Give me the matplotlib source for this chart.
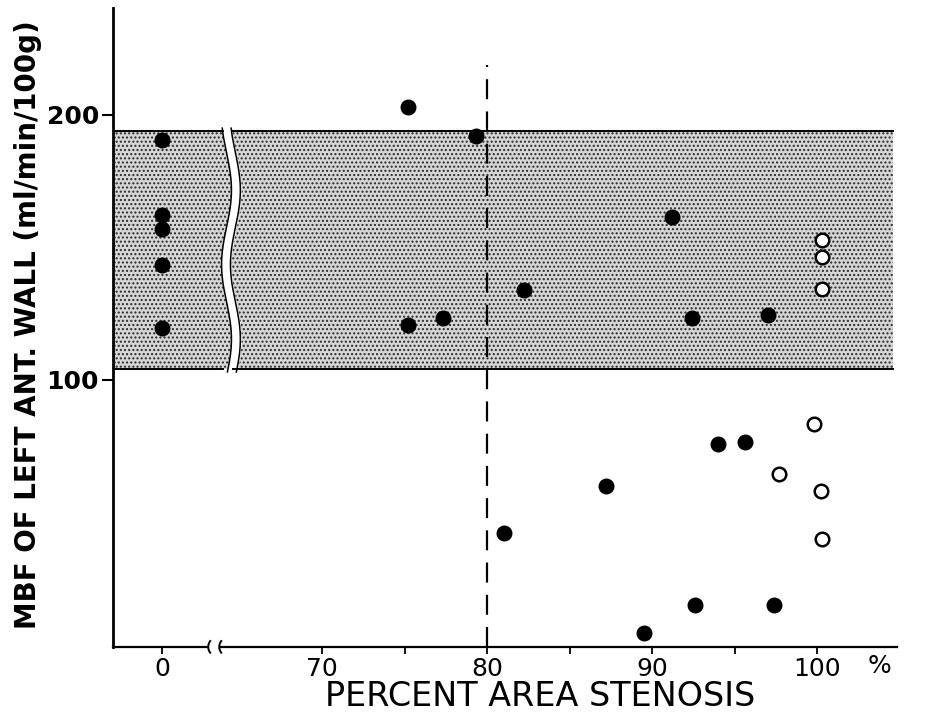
import matplotlib
matplotlib.use("Agg")
import matplotlib.pyplot as plt
import numpy as np

# MBF (ml/min/100g) vs percent area stenosis
filled_x = [0, 0, 0, 0, 0, 75.2, 79.3, 75.2, 77.3, 82.2, 91.2, 92.4, 97.0,
            94.0, 95.6, 87.2, 81.0, 92.6, 97.4, 89.5]
filled_y = [190.6, 162.3, 157.0, 143.4, 119.6, 203.0, 192.1, 120.8, 123.4, 134.0,
            161.5, 123.4, 124.5, 75.8, 76.6, 60.0, 42.3, 15.1, 15.1, 4.5]
open_x = [100.3, 100.3, 100.3, 99.8, 97.7, 100.2, 100.3]
open_y = [152.8, 146.4, 134.3, 83.4, 64.5, 58.1, 40.0]

band_low, band_high = 104.0, 194.0   # normal range
x_ticks = [0, 70, 80, 90, 100]
x_tick_labels = ["0", "70", "80", "90", "100"]
x_minor = [75, 85, 95]
y_ticks = [100, 200]

ZERO_POS = 60.3   # where the "0" group sits on the broken axis
XMIN, XMAX = 57.3, 104.85
YMIN, YMAX = -0.75, 240.4


def pos(v):
    v = np.asarray(v, dtype=float)
    return np.where(v < 50, ZERO_POS + v, v)


plt.rcParams["hatch.linewidth"] = 1.0
plt.rcParams["hatch.color"] = "#2a2a2a"

fig = plt.figure(figsize=(9.25, 7.14), dpi=100)
ax = fig.add_axes([0.122, 0.094, 0.848, 0.895])
ax.set_xlim(XMIN, XMAX)
ax.set_ylim(YMIN, YMAX)

# stippled normal band
ax.fill_between([XMIN, XMAX - 0.25], band_low, band_high, facecolor="#d6d6d6",
                edgecolor="#2a2a2a", hatch="....", linewidth=0, zorder=1)

# wavy break through the band
gap_c = 64.46
yy = np.linspace(band_low - 1, band_high + 1, 200)
wave = 0.3 * np.sin((yy - band_low) / (band_high - band_low) * 3.2 * np.pi + 0.3)
left_w = gap_c - 0.27 + wave
right_w = gap_c + 0.27 + wave
ax.fill_betweenx(yy, left_w, right_w, color="white", zorder=2)
ax.plot(left_w, yy, color="black", lw=1.1, zorder=3)
ax.plot(right_w, yy, color="black", lw=1.1, zorder=3)

# band edges, broken at the gap
for yb in (band_low, band_high):
    ax.plot([XMIN, gap_c - 0.5], [yb, yb], color="black", lw=1.4, zorder=3)
    ax.plot([gap_c + 0.1, XMAX - 0.25], [yb, yb], color="black", lw=1.4, zorder=3)

# 80 % line
ax.plot([80, 80], [YMIN, 219], color="black", lw=1.6, dashes=(9, 5.5), zorder=3)

ax.scatter(pos(filled_x), filled_y, s=110, color="black", zorder=5)
ax.scatter(pos(open_x), open_y, s=95, facecolor="white", edgecolor="black",
           linewidth=1.8, zorder=5)

# axes
for s in ("top", "right", "bottom"):
    ax.spines[s].set_visible(False)
ax.spines["left"].set_linewidth(2.0)

# broken bottom axis
b1, b2 = 63.12, 63.79
ax.plot([XMIN, b1 - 0.05], [YMIN, YMIN], color="black", lw=1.6, clip_on=False, zorder=6)
ax.plot([b2 + 0.05, XMAX], [YMIN, YMIN], color="black", lw=1.6, clip_on=False, zorder=6)
t = np.linspace(-1, 1, 30)
for bx in (b1, b2):
    ax.plot(bx + 0.12 * t ** 2 - 0.04, YMIN + 2.2 * t, color="black", lw=1.4,
            clip_on=False, zorder=6)

ax.set_xticks(pos(x_ticks))
ax.set_xticklabels(x_tick_labels)
ax.set_xticks(x_minor, minor=True)
ax.set_yticks(y_ticks)
ax.tick_params(axis="x", which="both", direction="out", length=5, width=1.3,
               labelsize=18, pad=2)
ax.tick_params(axis="y", direction="out", length=8, width=1.5, labelsize=18, pad=2)
for lab in ax.get_yticklabels():
    lab.set_fontweight("bold")

ax.text(100 + 62 / 16.43, -3.6, "%", ha="center", va="top", fontsize=18)

fig.text(540 / 925, 1 - 696 / 714, "PERCENT AREA STENOSIS", ha="center",
         va="center", fontsize=24)
fig.text(28 / 925, 1 - 325 / 714, "MBF OF LEFT ANT. WALL (ml/min/100g)",
         rotation=90, ha="center", va="center", fontsize=20, fontweight="bold")

fig.savefig("out.png", dpi=100)
